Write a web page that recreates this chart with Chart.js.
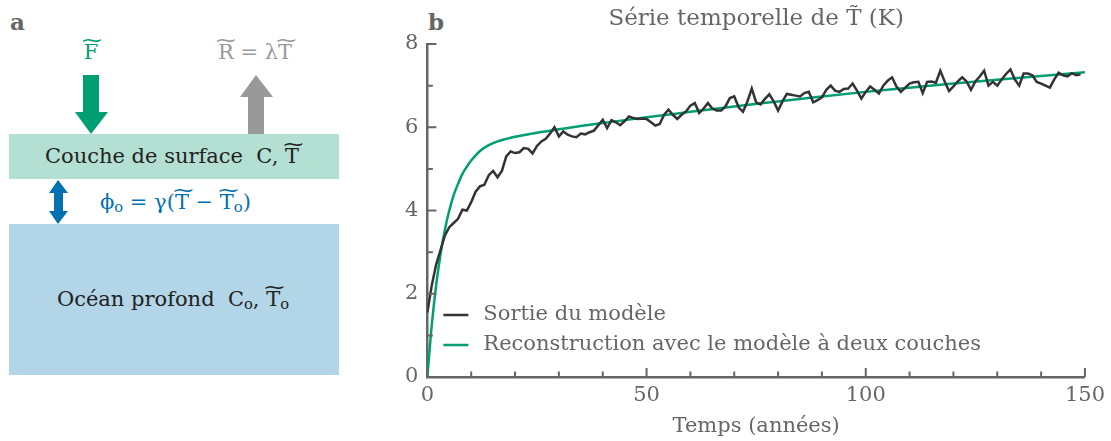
<!DOCTYPE html>
<html>
<head>
<meta charset="utf-8">
<script src="https://cdn.jsdelivr.net/npm/chart.js@4/dist/chart.umd.min.js"></script>
<style>
  body { margin: 0; width: 1111px; height: 441px; background: #fff; position: relative; overflow: hidden;
         font-family: "DejaVu Serif", serif; }
  .abs { position: absolute; white-space: nowrap; line-height: 1; }
  .ctr { transform: translateX(-50%); }
  .wt { position: relative; display: inline-block; }
  .wt::before { content: "~"; position: absolute; left: 0; right: 0; text-align: center;
                top: -0.66em; transform: scaleX(1.5); font-size: 0.9em; }
  .sb { font-size: 0.7em; position: relative; top: 0.18em; }
  #wrap { position: absolute; left: 390px; top: 0; width: 721px; height: 441px; }
</style>
</head>
<body>
<!-- panel a -->
<div class="abs" style="left:10px;top:10px;font-size:23px;font-weight:bold;color:#666;">a</div>
<div class="abs" style="left:9px;top:134px;width:330px;height:45px;background:#b3e0d3;"></div>
<div class="abs" style="left:9px;top:224px;width:330px;height:151px;background:#b3d5e8;"></div>
<svg class="abs" style="left:0;top:0" width="360" height="441">
  <polygon points="83,75 99,75 99,112 108,112 91,134 75,112 83,112" fill="#009e73"/>
  <polygon points="248,134 264,134 264,97 273,97 256,75 240,97 248,97" fill="#999999"/>
  <polygon points="58,180 68,193 63,193 63,211 68,211 58,224 49,211 54,211 54,193 49,193" fill="#0072b2"/>
</svg>
<div class="abs ctr" style="left:91px;top:42px;font-size:21px;color:#009e73;"><span class="wt">F</span></div>
<div class="abs ctr" style="left:255px;top:42px;font-size:21px;color:#999;"><span class="wt">R</span> = λ<span class="wt">T</span></div>
<div class="abs ctr" style="left:172px;top:146px;font-size:21px;color:#222;">Couche de surface&nbsp; C, <span class="wt">T</span></div>
<div class="abs" style="left:100px;top:192px;font-size:21px;color:#0072b2;">ϕ<span class="sb">o</span> = γ(<span class="wt">T</span> − <span class="wt">T</span><span class="sb">o</span>)</div>
<div class="abs ctr" style="left:173px;top:289px;font-size:21px;color:#222;">Océan profond&nbsp; C<span class="sb">o</span>, <span class="wt">T</span><span class="sb">o</span></div>
<!-- panel b -->
<div class="abs" style="left:428px;top:10px;font-size:23px;font-weight:bold;color:#666;">b</div>
<div id="wrap"><canvas id="c"></canvas></div>
<script>
// years 0..149, one value per year (model output, K)
const modelOut = [
  1.55, 2.2, 2.7, 3.05, 3.4, 3.6, 3.7, 3.8, 4.02, 4.0,
  4.2, 4.45, 4.58, 4.62, 4.85, 4.95, 4.8, 4.95, 5.3, 5.42,
  5.38, 5.4, 5.5, 5.48, 5.37, 5.55, 5.66, 5.72, 5.85, 6.0,
  5.78, 5.9, 5.82, 5.78, 5.76, 5.85, 5.83, 5.88, 5.92, 6.05,
  6.18, 5.98, 6.17, 6.12, 6.05, 6.15, 6.26, 6.22, 6.2, 6.21,
  6.2, 6.12, 6.04, 6.08, 6.3, 6.42, 6.3, 6.2, 6.3, 6.38,
  6.52, 6.58, 6.34, 6.45, 6.58, 6.45, 6.4, 6.4, 6.5, 6.7,
  6.74, 6.48, 6.37, 6.62, 6.93, 6.6, 6.55, 6.68, 6.79, 6.62,
  6.4, 6.62, 6.8, 6.78, 6.76, 6.74, 6.82, 6.85, 6.6, 6.65,
  6.72, 6.9, 7.0, 6.88, 6.85, 6.92, 6.93, 7.05, 6.88, 6.69,
  6.85, 6.98, 6.9, 6.81, 7.0, 7.12, 7.2, 6.98, 6.85, 6.95,
  7.05, 7.08, 7.09, 6.82, 7.09, 7.1, 7.07, 7.36, 7.1, 6.87,
  6.98, 7.1, 7.2, 7.1, 6.9, 7.1, 7.22, 7.36, 7.0, 7.09,
  7.0, 7.15, 7.28, 7.39, 7.15, 7.0, 7.29, 7.29, 7.25, 7.09,
  7.05, 7.0, 6.95, 7.15, 7.31, 7.25, 7.22, 7.3, 7.25, 7.27
];

// two-layer reconstruction, read at these years
const reconYears = [0, 1, 2, 3, 4, 5, 6, 7, 8, 9, 10, 12, 14, 16, 18, 20, 25, 30, 35, 40,
                    50, 60, 70, 80, 90, 100, 110, 120, 130, 140, 150];
const reconVals  = [0, 1.24, 2.2, 2.95, 3.54, 4.0, 4.37, 4.64, 4.88, 5.05, 5.2, 5.43, 5.57, 5.66, 5.72, 5.77, 5.87, 5.95, 6.03, 6.1,
                    6.24, 6.37, 6.5, 6.62, 6.74, 6.85, 6.95, 7.05, 7.14, 7.23, 7.32];

const labels = ['Sortie du modèle', 'Reconstruction avec le modèle à deux couches'];
const colors = ['#333333', '#009e73'];
const xTicks = [0, 50, 100, 150];
const yTicks = [0, 2, 4, 6, 8];

const grey = '#666666';
const font = { family: 'DejaVu Serif', size: 21 };

// inward ticks (major + minor) drawn from the scales
const innerTicks = {
  id: 'innerTicks',
  afterDatasetsDraw(chart) {
    const c = chart.ctx, a = chart.chartArea;
    const xs = chart.scales.x, ys = chart.scales.y;
    c.save();
    c.strokeStyle = grey;
    c.lineWidth = 2;
    c.beginPath();
    for (let v = 0; v <= 150; v += 10) {
      const px = xs.getPixelForValue(v);
      const len = v % 50 === 0 ? 9 : 5.5;
      c.moveTo(px, a.bottom); c.lineTo(px, a.bottom - len);
    }
    for (let v = 0; v <= 8; v += 1) {
      const py = ys.getPixelForValue(v);
      const len = v % 2 === 0 ? 9 : 5.5;
      c.moveTo(a.left, py); c.lineTo(a.left + len, py);
    }
    c.stroke();
    c.restore();
  }
};

// legend inside the plot, lower left
const innerLegend = {
  id: 'innerLegend',
  afterDraw(chart) {
    const c = chart.ctx, a = chart.chartArea;
    c.save();
    c.font = font.size + 'px ' + font.family;
    c.textBaseline = 'middle';
    chart.data.datasets.forEach((ds, i) => {
      const y = a.bottom - 62 + i * 30;
      c.strokeStyle = ds.borderColor;
      c.lineWidth = 2.5;
      c.beginPath();
      c.moveTo(a.left + 16, y); c.lineTo(a.left + 41, y);
      c.stroke();
      c.fillStyle = grey;
      c.fillText(ds.label, a.left + 56, y);
    });
    c.restore();
  }
};

new Chart(document.getElementById('c'), {
  type: 'line',
  data: {
    datasets: [
      {
        label: labels[0],
        data: modelOut.map((v, i) => ({ x: i, y: v })),
        borderColor: colors[0], borderWidth: 2.5, pointRadius: 0, tension: 0
      },
      {
        label: labels[1],
        data: reconYears.map((t, i) => ({ x: t, y: reconVals[i] })),
        borderColor: colors[1], borderWidth: 2.5, pointRadius: 0, tension: 0.4, cubicInterpolationMode: 'monotone'
      }
    ]
  },
  options: {
    responsive: true,
    maintainAspectRatio: false,
    animation: false,
    layout: { padding: { left: 6, right: 26, top: 0, bottom: 0 } },
    plugins: {
      legend: { display: false },
      tooltip: { enabled: false },
      title: {
        display: true,
        fullSize: false,
        text: 'Série temporelle de T\u0303 (K)',
        color: grey,
        font: { family: font.family, size: 23, weight: 'normal' },
        padding: { top: 5, bottom: 11.4 }
      }
    },
    scales: {
      x: {
        type: 'linear', min: 0, max: 150,
        afterBuildTicks: s => { s.ticks = xTicks.map(v => ({ value: v })); },
        grid: { display: false, drawTicks: false },
        border: { display: true, color: grey, width: 2.5 },
        ticks: { color: grey, font: font, padding: 6, maxRotation: 0 },
        title: { display: true, text: 'Temps (années)', color: grey, font: font, padding: { top: 0, bottom: 1.6 } }
      },
      y: {
        min: 0, max: 8,
        afterBuildTicks: s => { s.ticks = yTicks.map(v => ({ value: v })); },
        grid: { display: false, drawTicks: false },
        border: { display: true, color: grey, width: 2.5 },
        ticks: { color: grey, font: font, padding: 9 }
      }
    }
  },
  plugins: [innerTicks, innerLegend]
});
</script>
</body>
</html>
